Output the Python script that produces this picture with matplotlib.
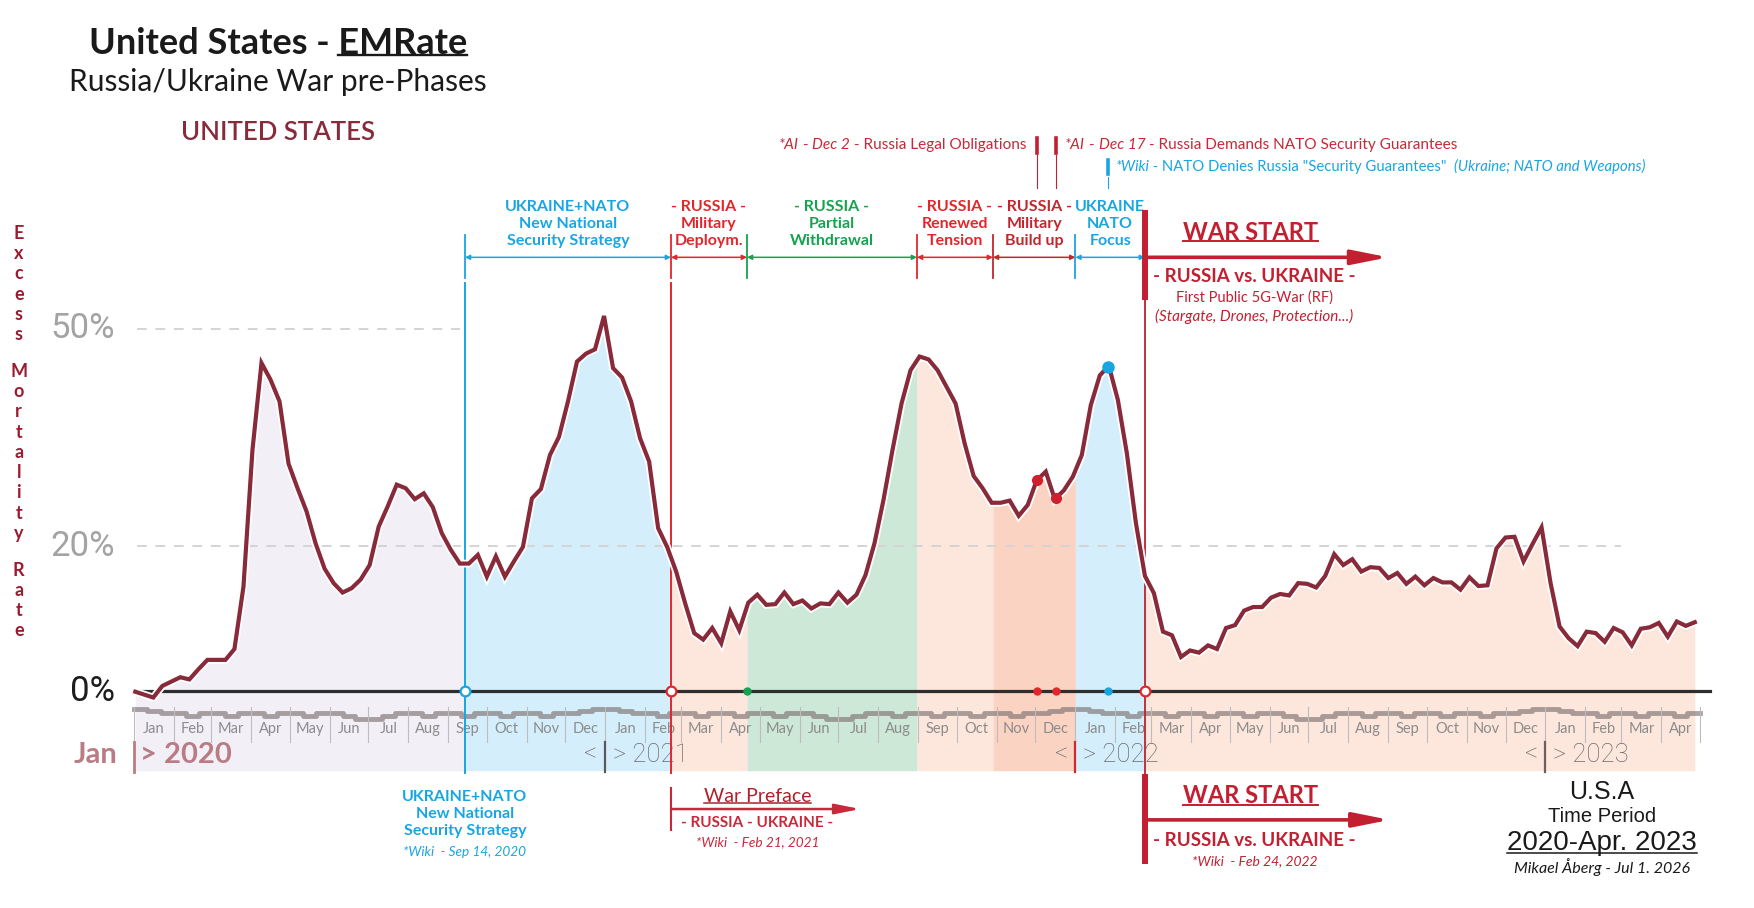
import numpy as np
import pandas as pd
import matplotlib
matplotlib.use('Agg')
import matplotlib.pyplot as plt
import matplotlib.dates as mdates

plt.rcParams['font.family'] = ['Lato', 'DejaVu Sans']

# ---------------- data ----------------
# weekly excess mortality rate (%), United States, weeks from 2020-01-02
emr = [-0.1, -0.5, -0.9, 0.7, 1.3, 1.9, 1.6, 3.0, 4.3, 4.3,
       4.3, 5.8, 14.4, 33.3, 45.3, 43.0, 40.0, 31.4, 28.0, 24.8,
       20.4, 16.9, 14.9, 13.6, 14.2, 15.4, 17.4, 22.7, 25.5, 28.5,
       28.0, 26.5, 27.3, 25.4, 21.8, 19.5, 17.6, 17.6, 18.8, 15.8,
       18.6, 15.8, 17.9, 19.9, 26.6, 27.9, 32.6, 35.1, 40.0, 45.5,
       46.6, 47.2, 51.8, 44.6, 43.3, 40.0, 34.9, 31.7, 22.5, 19.9,
       16.5, 12.1, 8.0, 7.1, 8.7, 6.6, 11.0, 8.4, 12.2, 13.3,
       11.9, 12.0, 13.6, 12.0, 12.5, 11.4, 12.1, 12.0, 13.6, 12.2,
       13.3, 16.0, 20.4, 26.4, 33.3, 39.7, 44.3, 46.2, 45.8, 44.3,
       42.0, 39.7, 34.2, 29.7, 28.0, 26.0, 26.0, 26.3, 24.2, 25.7,
       29.1, 30.3, 26.5, 27.7, 29.6, 32.6, 39.5, 43.6, 44.9, 40.2,
       32.8, 23.2, 15.9, 13.5, 8.2, 7.7, 4.7, 5.6, 5.3, 6.3,
       5.8, 8.7, 9.1, 11.1, 11.6, 11.6, 12.9, 13.4, 13.2, 14.9,
       14.8, 14.3, 15.9, 18.9, 17.4, 18.2, 16.5, 17.1, 17.0, 15.6,
       16.3, 14.8, 15.8, 14.6, 15.6, 15.0, 15.0, 14.0, 15.7, 14.5,
       14.6, 19.7, 21.2, 21.3, 17.9, 20.3, 22.6, 14.9, 8.9, 7.3,
       6.2, 8.2, 8.0, 6.8, 8.7, 8.1, 6.3, 8.6, 8.8, 9.4,
       7.5, 9.6, 9.0, 9.5]
first_week = '2020-01-02'

# background phases
phase_start = ['2020-01-02', '2020-09-14', '2021-02-21', '2021-04-21',
               '2021-08-31', '2021-10-29', '2022-01-01', '2022-02-24']
phase_fill = ['#f2eff7', '#d4eefb', '#fde6dc', '#cde8d6',
              '#fde6dc', '#fbd3c2', '#d4eefb', '#fde6dc']

# labelled pre-phase segments on the top timeline
seg_edges = ['2020-09-14', '2021-02-21', '2021-04-21', '2021-08-31',
             '2021-10-29', '2022-01-01', '2022-02-24']
seg_labels = ['UKRAINE+NATO\nNew National\nSecurity Strategy',
              '- RUSSIA -\nMilitary\nDeploym.',
              '- RUSSIA -\nPartial\nWithdrawal',
              '- RUSSIA -\nRenewed\nTension',
              '- RUSSIA -\nMilitary\nBuild up',
              'UKRAINE\nNATO\nFocus']
seg_colors = ['#18a6e2', '#e3262c', '#16a24e', '#e3262c', '#c1272d', '#18a6e2']

ai_dates = ['2021-12-02', '2021-12-17']
wiki_date = '2022-01-26'
war_date = '2022-02-24'

# seasonal baseline strip under 0 %, thirds of each month Jan..Dec
baseline_thirds = [[-2.5, -2.8, -3.1], [-3.1, -3.45, -3.1], [-3.1, -3.45, -3.1],
                   [-3.1, -3.45, -3.1], [-3.1, -3.45, -3.1], [-3.1, -3.45, -3.9],
                   [-3.9, -3.45, -3.1], [-3.1, -3.45, -3.1], [-3.1, -3.45, -3.1],
                   [-3.1, -3.45, -3.1], [-3.1, -3.45, -3.1], [-3.1, -2.8, -2.5]]

ytick_vals = [50, 20, 0]
ytick_cols = ['#a3a3a3', '#a3a3a3', '#1c1c1c']

# ---------------- figure ----------------
def D(s):
    return mdates.datestr2num(s)

MAROON = '#882a3a'
WARRED = '#c21f30'
BLUE = '#18a6e2'
RED = '#e3262c'
BOTTOM = -11.0

fig = plt.figure(figsize=(17.54, 9.08), dpi=100)
ax = fig.add_axes([0, 0, 1, 1])
ax.axis('off')
t0 = D('2020-01-01')
ax.set_xlim(t0 - 104.05, t0 + 1257.96)
ax.set_ylim(-29.97, 95.44)

dates = pd.date_range(first_week, periods=len(emr), freq='7D')
x = mdates.date2num(dates)
y = np.array(emr)

# phase fills under the curve
ends = phase_start[1:] + [dates[-1].strftime('%Y-%m-%d')]
for s, e, c in zip(phase_start, ends, phase_fill):
    xs, xe = D(s), D(e)
    inside = (x > xs) & (x < xe)
    xx = np.concatenate([[xs], x[inside], [xe]])
    ax.fill_between(xx, np.interp(xx, x, y), BOTTOM, color=c, lw=0, zorder=1)

# dashed reference lines
ax.plot([D('2020-01-03'), D('2020-09-10')], [50, 50], color='#d4d4d4', lw=1.4,
        ls=(0, (5, 4.5)), zorder=2)
ax.plot([D('2020-01-03'), D('2023-03-01')], [20, 20], color='#d4d4d4', lw=1.4,
        ls=(0, (5, 4.5)), zorder=2)

# month strip
months = pd.date_range('2020-01-01', '2023-04-01', freq='MS')
edges, levels = [], []
for m in months:
    n = m.days_in_month
    for j in range(3):
        edges.append(mdates.date2num(m) + j * n / 3)
        levels.append(baseline_thirds[m.month - 1][j])
edges.append(D('2023-05-01'))
levels.append(levels[-1])
ax.step(edges, levels, where='post', color='#7f7373', alpha=0.66, lw=3.5, zorder=2)
for m in list(months) + [pd.Timestamp('2023-05-01')]:
    mx = mdates.date2num(m)
    ax.plot([mx, mx], [-2.2, -7.0], color='#bdbdbd', lw=0.8, zorder=2)
for m in months:
    mx = mdates.date2num(m) + m.days_in_month / 2
    ax.text(mx, -5.3, m.strftime('%b'), ha='center', va='center', fontsize=10.5,
            color='#8c8c8c', zorder=3)

# year row
ax.text(t0 - 13, -8.8, 'Jan', ha='right', va='center', fontsize=21,
        fontweight='bold', color='#b97c84')
ax.plot([t0, t0], [-7.0, -11.2], color='#b97c84', lw=2, zorder=3)
ax.text(t0 + 5, -8.8, '> 2020', ha='left', va='center', fontsize=21,
        fontweight='bold', color='#b97c84')
for yr, col in zip(['2021', '2022', '2023'], ['#5a5a5a', '#d0282e', '#6a6060']):
    yx = D(yr + '-01-01')
    ax.plot([yx, yx], [-7.0, -11.2], color=col, lw=1.6, zorder=3)
    ax.text(yx - 6, -8.8, '<', ha='right', va='center', fontsize=18.5,
            color='#6b6b6b', family='Roboto', fontweight='light')
    ax.text(yx + 6, -8.8, '> ' + yr, ha='left', va='center', fontsize=18.5,
            color='#6b6b6b', family='Roboto', fontweight='light')

# zero line
ax.plot([t0, D('2023-05-09')], [0, 0], color='#2e2e2e', lw=2.3, zorder=3)

# y labels
for v, c in zip(ytick_vals, ytick_cols):
    ax.text(t0 - 14.8, v, '%d%%' % v, ha='right', va='center', fontsize=25,
            color=c, family='Roboto')
yl = 63.2
for ch in 'Excess Mortality Rate':
    if ch == ' ':
        yl -= 2.25
        continue
    ax.text(t0 - 89.5, yl, ch, ha='center', va='center', fontsize=13,
            fontweight='bold', color='#9b1b30')
    yl -= 2.8

# top timeline segments
for i in range(len(seg_edges) - 1):
    a, b = D(seg_edges[i]), D(seg_edges[i + 1])
    c = seg_colors[i]
    ax.annotate('', xy=(b, 59.9), xytext=(a, 59.9),
                arrowprops=dict(arrowstyle='<|-|>', color=c, lw=1.1,
                                shrinkA=0, shrinkB=0, mutation_scale=7))
    ax.plot([a, a], [63.0, 57.0], color=c, lw=1.3, zorder=3)
    ax.text((a + b) / 2, 64.5, seg_labels[i], ha='center', va='center',
            fontsize=11.5, fontweight='bold', color=c, linespacing=1.3)

# long phase lines
for d, c in [(seg_edges[0], BLUE), (seg_edges[1], RED)]:
    ax.plot([D(d), D(d)], [56.4, -11.3], color=c, lw=1.4, zorder=3)
wx = D(war_date)
ax.plot([wx, wx], [66.0, 54.4], color=WARRED, lw=4.3, zorder=3)
ax.plot([wx, wx], [54.0, -11.6], color=WARRED, lw=1.3, zorder=3)
ax.plot([wx, wx], [-11.9, -23.5], color=WARRED, lw=4.3, zorder=3)

# curve
ax.plot(x, y, color='white', lw=5.6, zorder=4, solid_joinstyle='miter')
ax.plot(x, y, color=MAROON, lw=3.0, zorder=5, solid_joinstyle='miter')

# markers
for d, c in [(seg_edges[0], BLUE), (seg_edges[1], RED), (war_date, RED)]:
    ax.plot(D(d), 0, 'o', ms=7, mfc='white', mec=c, mew=1.6, zorder=6)
for d, c in [(seg_edges[2], '#16a24e'), (ai_dates[0], RED), (ai_dates[1], RED),
             (wiki_date, BLUE)]:
    ax.plot(D(d), 0, 'o', ms=5, color=c, zorder=6)
for d, c, s in [(ai_dates[0], '#d0202c', 7), (ai_dates[1], '#d0202c', 7),
                (wiki_date, BLUE, 8)]:
    ax.plot(D(d), np.interp(D(d), x, y), 'o', ms=s, color=c, zorder=6)

# event ticks at the top
for d in ai_dates:
    ax.plot([D(d), D(d)], [76.4, 74.3], color=WARRED, lw=2.6)
    ax.plot([D(d), D(d)], [74.0, 69.5], color=WARRED, lw=0.8)
ax.plot([D(wiki_date), D(wiki_date)], [73.3, 71.4], color=BLUE, lw=2.6)
ax.plot([D(wiki_date), D(wiki_date)], [71.0, 69.5], color=BLUE, lw=0.8)


def chain(x0, y0, pieces, color, size, ha='left'):
    if ha == 'right':
        pieces = pieces[::-1]
    t = ax.text(x0, y0, pieces[0][0], color=color, fontsize=size,
                style=pieces[0][1], ha=ha, va='center')
    for s, st in pieces[1:]:
        if ha == 'left':
            t = ax.annotate(s, xy=(1, 0), xycoords=t, ha='left', va='bottom',
                            color=color, fontsize=size, style=st)
        else:
            t = ax.annotate(s, xy=(0, 0), xycoords=t, ha='right', va='bottom',
                            color=color, fontsize=size, style=st)
    return t


chain(D(ai_dates[0]) - 8, 75.4,
      [('*AI', 'italic'), (' - ', 'normal'), ('Dec 2', 'italic'),
       (' - Russia Legal Obligations', 'normal')], '#c8283a', 11.1, ha='right')
chain(D(ai_dates[1]) + 7, 75.4,
      [('*AI', 'italic'), (' - ', 'normal'), ('Dec 17', 'italic'),
       (' - Russia Demands NATO Security Guarantees', 'normal')], '#c8283a', 11.1)
chain(D(wiki_date) + 6, 72.4,
      [('*Wiki', 'italic'), (' - NATO Denies Russia "Security Guarantees"  ', 'normal'),
       ('(Ukraine; NATO and Weapons)', 'italic')], BLUE, 10.7)

# WAR START (top)
ax.annotate('', xy=(D('2022-09-01'), 59.9), xytext=(wx, 59.9),
            arrowprops=dict(arrowstyle='-|>,head_length=1.1,head_width=0.22',
                            color=WARRED, lw=2.6, shrinkA=0, shrinkB=0,
                            mutation_scale=20))
ws1 = ax.text(D('2022-05-17'), 63.3, 'WAR START', ha='center', va='center',
              fontsize=17, fontweight='bold', color=WARRED)
ax.text(D('2022-05-20'), 57.2, '- RUSSIA vs. UKRAINE -', ha='center', va='center',
        fontsize=13.5, fontweight='bold', color=WARRED)
ax.text(D('2022-05-20'), 54.4, 'First Public 5G-War (RF)', ha='center', va='center',
        fontsize=10.5, color=WARRED)
ax.text(D('2022-05-20'), 51.7, '(Stargate, Drones, Protection...)', ha='center',
        va='center', fontsize=11, style='italic', color=WARRED)

# WAR START (bottom)
ax.annotate('', xy=(D('2022-09-02'), -17.8), xytext=(wx, -17.8),
            arrowprops=dict(arrowstyle='-|>,head_length=1.1,head_width=0.22',
                            color=WARRED, lw=2.6, shrinkA=0, shrinkB=0,
                            mutation_scale=20))
ws2 = ax.text(D('2022-05-17'), -14.5, 'WAR START', ha='center', va='center',
              fontsize=17, fontweight='bold', color=WARRED)
ax.text(D('2022-05-20'), -20.6, '- RUSSIA vs. UKRAINE -', ha='center', va='center',
        fontsize=13.5, fontweight='bold', color=WARRED)
ax.text(D('2022-05-20'), -23.5, '*Wiki  - Feb 24, 2022', ha='center', va='center',
        fontsize=10, style='italic', color=WARRED)

# War Preface
fx = D(seg_edges[1])
ax.plot([fx, fx], [-13.4, -19.2], color='#c8283a', lw=1.5)
ax.annotate('', xy=(D('2021-07-18'), -16.3), xytext=(fx, -16.3),
            arrowprops=dict(arrowstyle='-|>,head_length=1.0,head_width=0.2',
                            color='#c8283a', lw=1.8, shrinkA=0, shrinkB=0,
                            mutation_scale=15))
wp = ax.text(D('2021-04-29'), -14.6, 'War Preface', ha='center', va='center',
             fontsize=14, color='#b0202c')
ax.text(D('2021-04-29'), -18.2, '- RUSSIA - UKRAINE -', ha='center', va='center',
        fontsize=11, fontweight='bold', color='#c8283a')
ax.text(D('2021-04-29'), -20.9, '*Wiki  - Feb 21, 2021', ha='center', va='center',
        fontsize=9.8, style='italic', color='#c8283a')

# UKRAINE+NATO (bottom)
ax.text(D(seg_edges[0]), -17.0, seg_labels[0], ha='center', va='center',
        fontsize=11.5, fontweight='bold', color=BLUE, linespacing=1.3)
ax.text(D(seg_edges[0]), -22.2, '*Wiki  - Sep 14, 2020', ha='center', va='center',
        fontsize=9.8, style='italic', color=BLUE)

# titles
title = ax.text(t0 + 112, 89.5, 'United States - EMRate', ha='center', va='center',
                fontsize=26, fontweight='bold', color='#1a1a1a')
ax.text(t0 + 112, 84.1, 'Russia/Ukraine War pre-Phases', ha='center', va='center',
        fontsize=21.5, color='#1a1a1a')
ax.text(t0 + 112, 77.1, 'UNITED STATES', ha='center', va='center',
        fontsize=18.5, fontweight='semibold', color=MAROON)

# bottom right
bx = D('2023-02-14')
ax.text(bx, -14.0, 'U.S.A', ha='center', va='center', fontsize=18,
        family='Liberation Sans', color='#1a1a1a')
ax.text(bx, -17.3, 'Time Period', ha='center', va='center', fontsize=14.5,
        family='Liberation Sans', color='#1a1a1a')
per = ax.text(bx, -21.0, '2020-Apr. 2023', ha='center', va='center',
              fontsize=20, family='Liberation Sans', color='#1a1a1a')
ax.text(bx, -24.3, 'Mikael \u00c5berg - Jul 1. 2026', ha='center',
        va='center', fontsize=11.5, style='italic', color='#1a1a1a')

# underlines
fig.canvas.draw()
r = fig.canvas.get_renderer()
inv = ax.transData.inverted()


def underline(t, color, lw, frac=None):
    bb = t.get_window_extent(r)
    x1 = bb.x1
    x0 = bb.x0 if frac is None else bb.x1 - frac
    yy = bb.y0 + 0.13 * bb.height
    (a, yv), (b, _) = inv.transform([(x0, yy), (x1, yy)])
    ax.plot([a, b], [yv, yv], color=color, lw=lw)


tmp = ax.text(0, 0, 'EMRate', fontsize=26, fontweight='bold')
w = tmp.get_window_extent(r).width
tmp.remove()
underline(title, '#1a1a1a', 1.7, frac=w)
underline(ws1, WARRED, 1.4)
underline(ws2, WARRED, 1.4)
underline(wp, '#b0202c', 1.1)
underline(per, '#1a1a1a', 1.1)

fig.savefig('out.png', dpi=100)
